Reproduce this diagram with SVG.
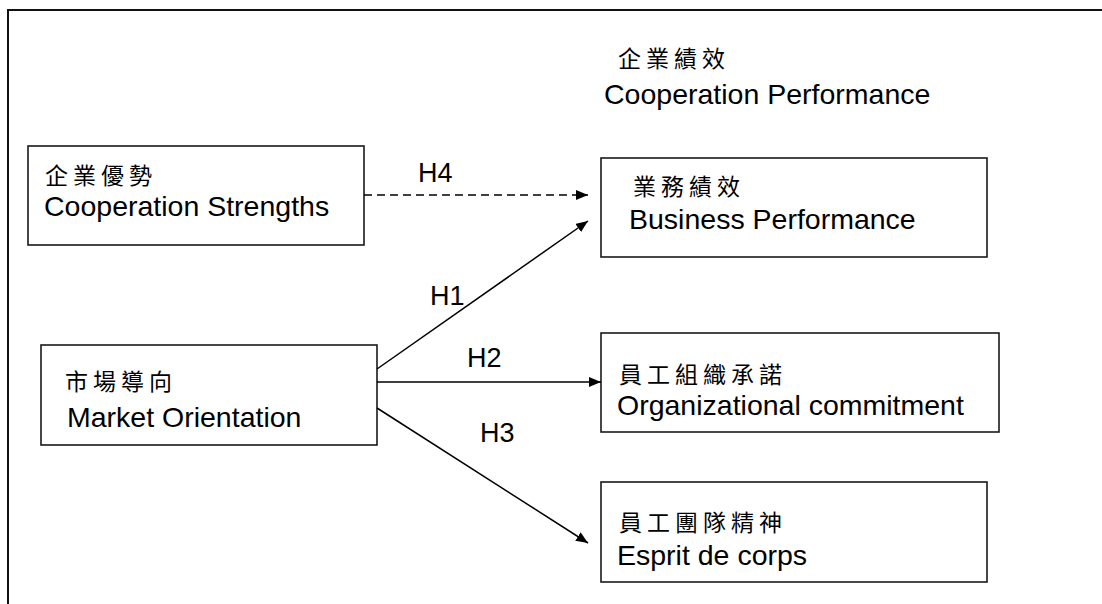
<svg xmlns="http://www.w3.org/2000/svg" width="1102" height="604" viewBox="0 0 1102 604">
<style>
.box{fill:#fff;stroke:#1a1a1a;stroke-width:1.6}
.en{font-family:"Liberation Sans",Arial,sans-serif;font-size:28.5px;fill:#000}
.zh{font-family:"Noto Sans CJK TC","Noto Sans CJK SC",sans-serif;font-size:23px;letter-spacing:5px;fill:#000}
.lbl{font-family:"Liberation Sans",Arial,sans-serif;font-size:27px;fill:#000}
.con{fill:none;stroke:#000;stroke-width:1.5}
</style>
<defs>
<marker id="arr" viewBox="0 0 12 10" refX="12" refY="5" markerWidth="12" markerHeight="10" markerUnits="userSpaceOnUse" orient="auto">
<path d="M0,0 L12,5 L0,10 Z" fill="#000"/>
</marker>
</defs>
<rect width="1102" height="604" fill="#fff"/>
<path d="M8,604 V10 H1102" fill="none" stroke="#111" stroke-width="2"/>
<g id="title">
<text class="zh" x="618" y="67">企業績效</text>
<text class="en" x="604" y="104">Cooperation Performance</text>
</g>
<g id="strengths">
<rect class="box" x="28" y="146" width="336" height="99"/>
<text class="zh" x="45" y="184">企業優勢</text>
<text class="en" x="44" y="216">Cooperation Strengths</text>
</g>
<g id="market">
<rect class="box" x="41" y="345" width="336" height="100"/>
<text class="zh" x="65" y="390">市場導向</text>
<text class="en" x="67" y="427">Market Orientation</text>
</g>
<g id="business">
<rect class="box" x="601" y="158" width="386" height="99"/>
<text class="zh" x="633" y="195">業務績效</text>
<text class="en" x="629" y="229">Business Performance</text>
</g>
<g id="commitment">
<rect class="box" x="601" y="333" width="398" height="99"/>
<text class="zh" x="619" y="383">員工組織承諾</text>
<text class="en" x="617" y="415">Organizational commitment</text>
</g>
<g id="esprit">
<rect class="box" x="601" y="482" width="386" height="100"/>
<text class="zh" x="619" y="531">員工團隊精神</text>
<text class="en" x="617" y="565">Esprit de corps</text>
</g>
<g id="connectors">
<path class="con" d="M364,195 H588" stroke-dasharray="8,5" marker-end="url(#arr)"/>
<path class="con" d="M377,369 L588,221" marker-end="url(#arr)"/>
<path class="con" d="M377,382 L601,382" marker-end="url(#arr)"/>
<path class="con" d="M377,408 L588,543" marker-end="url(#arr)"/>
<text class="lbl" x="418" y="182">H4</text>
<text class="lbl" x="430" y="305">H1</text>
<text class="lbl" x="467" y="367">H2</text>
<text class="lbl" x="480" y="442">H3</text>
</g>
</svg>
